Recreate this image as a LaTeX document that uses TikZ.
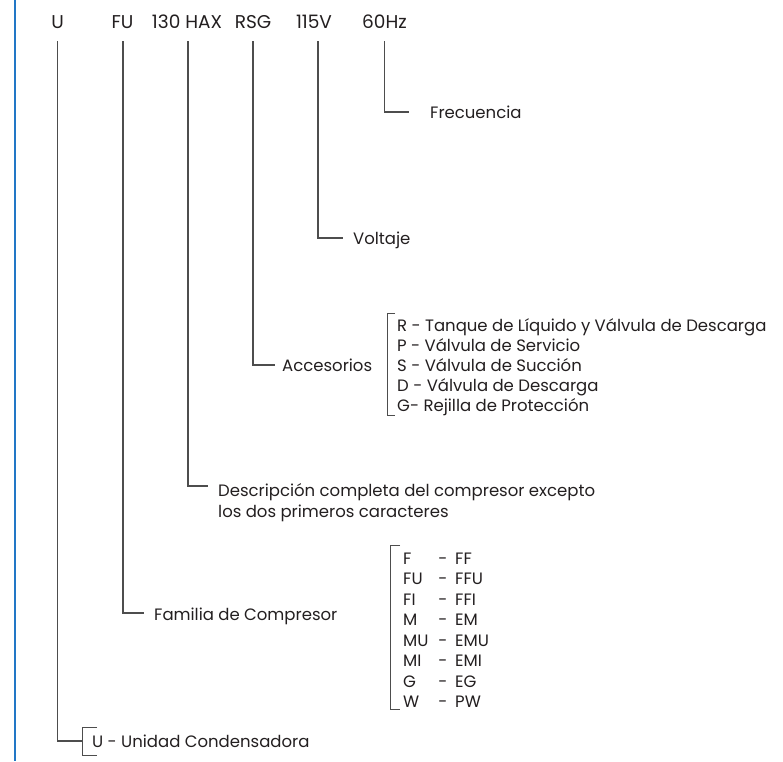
\documentclass[tikz,border=0pt]{standalone}
\usepackage{fontspec}
\setmainfont{Poppins}
\definecolor{txt}{HTML}{231F20}
\definecolor{ln}{HTML}{4D4D4D}
\definecolor{blueline}{HTML}{2277C6}
\tikzset{
  code/.style={anchor=base, inner sep=0pt, font=\fontsize{18.5}{22}\selectfont, text=txt},
  lbl/.style={anchor=base west, inner sep=0pt, font=\fontsize{16.5}{20}\selectfont, text=txt},
  dashc/.style={anchor=base, inner sep=0pt, font=\fontsize{16.5}{20}\selectfont, text=txt},
  conn/.style={draw=ln, line width=1.3pt},
  brk/.style={draw=ln, line width=1pt},
}
\begin{document}
\begin{tikzpicture}[x=1pt,y=-1pt]
\useasboundingbox (0,0) rectangle (783,761);
\fill[white] (0,0) rectangle (783,761);
\draw[blueline, line width=1.5pt] (15,0) -- (15,761);
% top codes
\node[code] (cU)    at (57.5,28)  {U};
\node[code] (cFU)   at (122.5,28) {FU};
\node[code] (cDesc) at (187,28)   {130 HAX};
\node[code] (cRSG)  at (253,28)   {RSG};
\node[code] (cV)    at (314,28)   {115V};
\node[code] (cHz)   at (384.5,28) {60Hz};
% start points of the leader lines, under each code
\coordinate (sU)   at (57.5,41);
\coordinate (sFU)  at (123,41);
\coordinate (sDesc) at (188,41);
\coordinate (sRSG) at (253,41);
\coordinate (sV)   at (318,41);
\coordinate (sHz)  at (384.5,41);
% labels (baseline = connector y + 6)
\node[lbl] (lHz)   at (430,118) {Frecuencia};
\node[lbl] (lV)    at (353,244) {Voltaje};
\node[lbl] (lAcc)  at (282,371) {Accesorios};
\node[lbl] (lDesc) at (218,496) {Descripción completa del compresor excepto};
\node[lbl] (lDescB) at (218,517) {los dos primeros caracteres};
\node[lbl] (lFam)  at (154,620) {Familia de Compresor};
\node[lbl] (lU)    at (92,747)  {U - Unidad Condensadora};
% accessories list
\foreach \t [count=\i] in {R - Tanque de Líquido y Válvula de Descarga, P - Válvula de Servicio, S - Válvula de Succión, D - Válvula de Descarga, G- Rejilla de Protección}
  \node[lbl] (acc\i) at (397,{331+(\i-1)*20}) {\t};
% family list
\foreach \a/\b [count=\i] in {F/FF, FU/FFU, FI/FFI, M/EM, MU/EMU, MI/EMI, G/EG, W/PW}{
  \node[lbl] (famA\i) at (403,{564+(\i-1)*20.5}) {\a};
  \node[dashc] (famD\i) at (443,{564+(\i-1)*20.5}) {-};
  \node[lbl] (famB\i) at (455,{564+(\i-1)*20.5}) {\b};
}
% connectors
\draw[conn, shorten >=21pt] (sHz) |- ([yshift=6pt]lHz.base west);
\draw[conn, shorten >=10pt] (sV) |- ([yshift=6pt]lV.base west);
\draw[conn, shorten >=7pt]  (sRSG) |- ([yshift=6pt]lAcc.base west);
\draw[conn, shorten >=10pt] (sDesc) |- ([yshift=10pt]lDesc.base west);
\draw[conn, shorten >=10pt] (sFU) |- ([yshift=7pt]lFam.base west);
\draw[conn, shorten >=10pt] (sU) |- ([yshift=6pt]lU.base west);
% brackets
\draw[brk] (395,313) -- (387,313) -- (387,415) -- (395,415);
\draw[brk] (400,545) -- (390,545) -- (390,709) -- (400,709);
\draw[brk] (97,727) -- (82,727) -- (82,755) -- (97,755);
\end{tikzpicture}
\end{document}
